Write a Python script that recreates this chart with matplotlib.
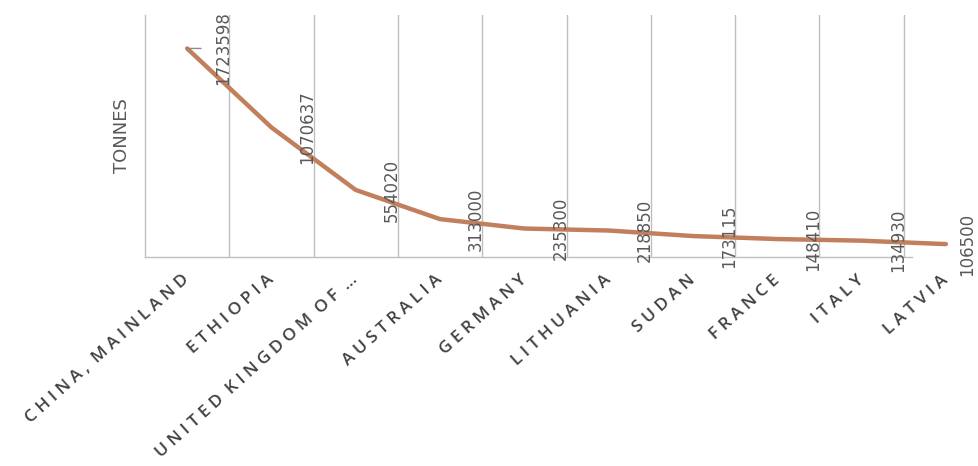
import matplotlib
matplotlib.use("Agg")
import matplotlib.pyplot as plt
import numpy as np

categories = ["CHINA, MAINLAND", "ETHIOPIA", "UNITED KINGDOM OF \u2026", "AUSTRALIA",
              "GERMANY", "LITHUANIA", "SUDAN", "FRANCE", "ITALY", "LATVIA"]
values = [1723598, 1070637, 554020, 313000, 235300, 218850, 173115, 148410, 134930, 106500]
y_label = "TONNES"
y_max = 2000000

W, H = 979, 466
fig = plt.figure(figsize=(W / 100, H / 100), dpi=100)
left, right, top, bottom = 145, 145 + 843, 15, 257
ax = fig.add_axes([left / W, 1 - bottom / H, (right - left) / W, (bottom - top) / H])

x = np.arange(len(categories))
ax.plot(x, values, color="#C27F5C", lw=3.2, solid_capstyle="round", solid_joinstyle="round",
        zorder=3, clip_on=False)

ax.set_xlim(-0.5, len(categories) - 0.5)
ax.set_ylim(0, y_max)

grid_col = "#BFBFBF"
ax.set_xticks(x[:-1] + 0.5, minor=True)
ax.grid(True, which="minor", axis="x", color=grid_col, lw=1)
ax.tick_params(which="both", length=0)
ax.set_yticks([])
for s in ["top", "right"]:
    ax.spines[s].set_visible(False)
ax.spines["left"].set_color(grid_col)
ax.spines["bottom"].set_color(grid_col)
ax.spines["left"].set_linewidth(1)
ax.spines["bottom"].set_linewidth(1)
ax.spines["bottom"].set_bounds(-0.5, len(categories) - 1.4)

sp = "\u2005"
def spaced(s):
    words = s.split(" ")
    return (sp + " ").join(sp.join(list(w)) for w in words)

ax.set_xticks(x)
ax.set_xticklabels([spaced(c) for c in categories], rotation=42, ha="right", va="center",
                   rotation_mode="anchor", family=["Open Sans", "DejaVu Sans"],
                   fontweight="semibold", fontsize=12.5, color="#404040")
ax.tick_params(axis="x", pad=15)

ax.set_ylabel(y_label, family=["DejaVu Sans"], fontsize=13, color="#595959", labelpad=10)

n = len(values)
for i, (xi, v) in enumerate(zip(x, values)):
    dx = 26 if i < n - 1 else 15
    ax.annotate(str(v), xy=(xi, v), xytext=(dx, 0), textcoords="offset points",
                rotation=90, ha="center", va="center", fontsize=12, color="#595959",
                family=["DejaVu Sans"], annotation_clip=False, zorder=4)

# leader line from first point
ax.annotate("", xy=(x[0], values[0]), xytext=(10, 0), textcoords="offset points",
            arrowprops=dict(arrowstyle="-", color="#8C8C8C", lw=1, shrinkA=0, shrinkB=0))

fig.savefig("out.png", dpi=100)
